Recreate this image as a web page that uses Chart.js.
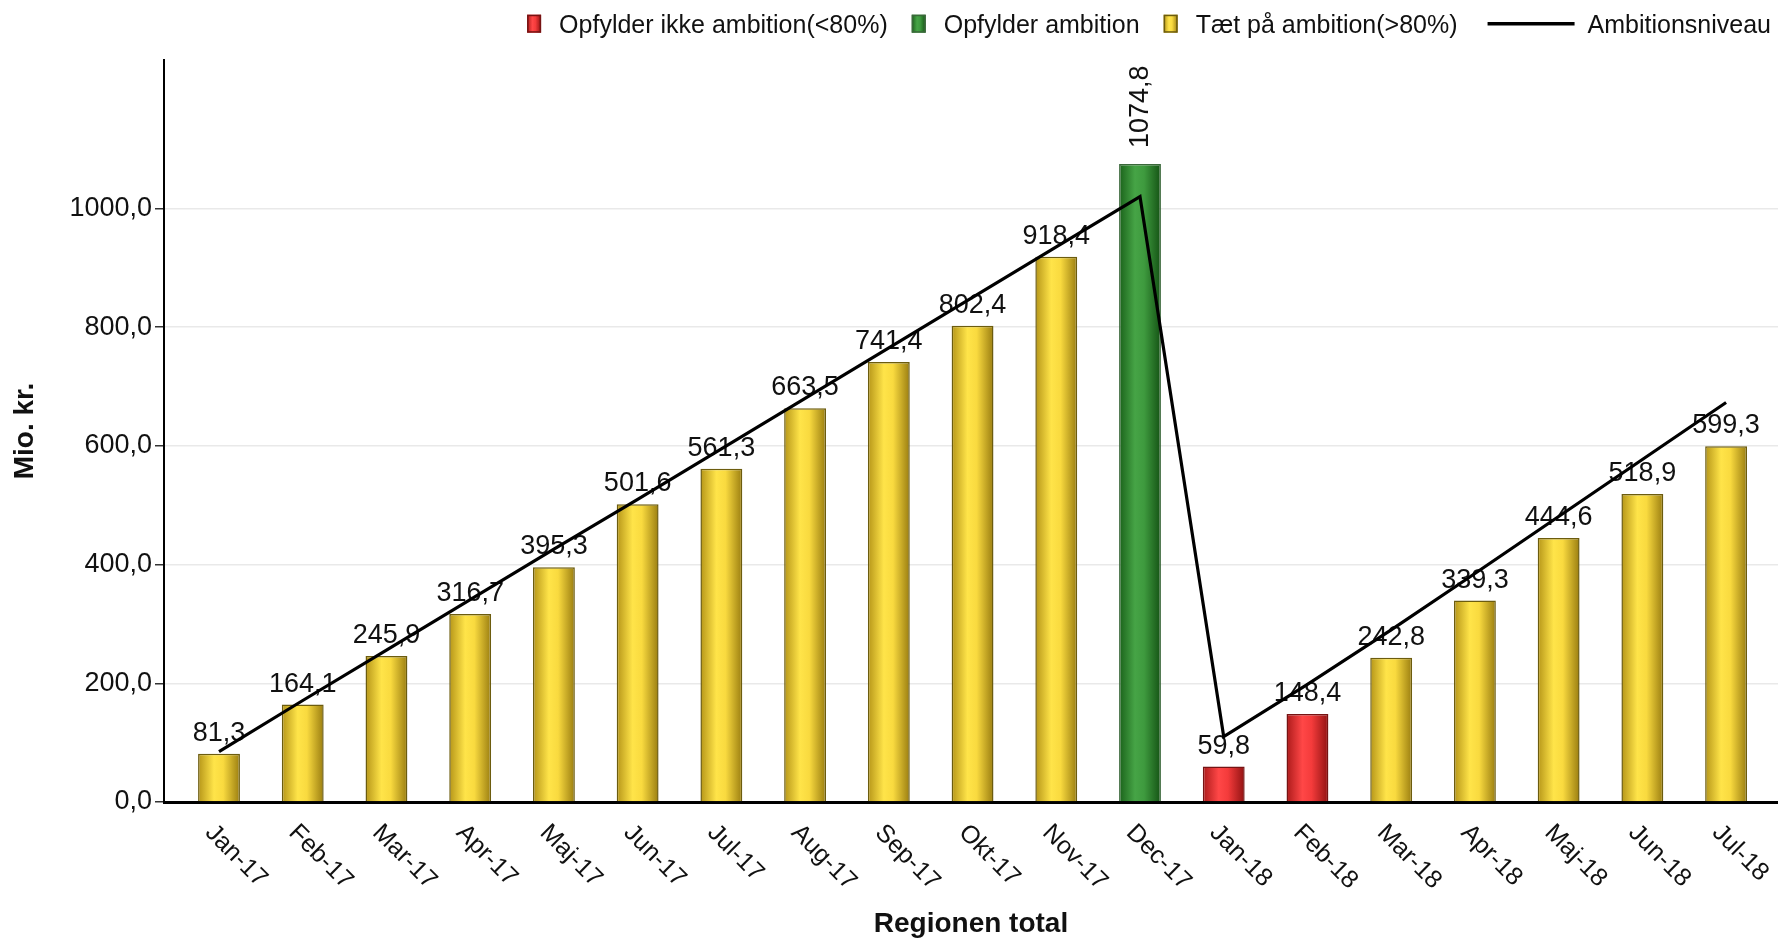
<!DOCTYPE html>
<html>
<head>
<meta charset="utf-8">
<script src="https://cdn.jsdelivr.net/npm/chart.js@4.4.1/dist/chart.umd.min.js"></script>
<style>
html,body{margin:0;padding:0;background:#fff;}
#wrap{width:1778px;height:941px;position:relative;}
</style>
</head>
<body>
<div id="wrap"><canvas id="c" width="1778" height="941"></canvas></div>
<script>
// ---------- DATA ----------
const months = ['Jan-17','Feb-17','Mar-17','Apr-17','Maj-17','Jun-17','Jul-17','Aug-17','Sep-17','Okt-17','Nov-17','Dec-17',
                'Jan-18','Feb-18','Mar-18','Apr-18','Maj-18','Jun-18','Jul-18'];
const actual = [81.3,164.1,245.9,316.7,395.3,501.6,561.3,663.5,741.4,802.4,918.4,1074.8,
                59.8,148.4,242.8,339.3,444.6,518.9,599.3];
const status = ['near','near','near','near','near','near','near','near','near','near','near','meets',
                'below','below','near','near','near','near','near'];
const ambition = [85,171,256,341,426,510,595,680,765,850,935,1020,
                  110,198,290,385,481,577,673];
const statusOrder = ['below','meets','near'];
const statusNames = {below:'Opfylder ikke ambition(<80%)', meets:'Opfylder ambition', near:'Tæt på ambition(>80%)'};
const lineName = 'Ambitionsniveau';
const yTickValues = [0,200,400,600,800,1000];
const yMax = 1250;
const xTitle = 'Regionen total';
const yTitle = 'Mio. kr.';

// ---------- STYLE ----------
const FONT = '"Liberation Sans", Arial, Helvetica, sans-serif';
const palette = {
  below: {stops:[[0,'#ab1a1a'],[0.38,'#ff4747'],[0.6,'#f43b3b'],[1,'#901212']], border:'#761313'},
  meets: {stops:[[0,'#1a621a'],[0.38,'#46a446'],[0.6,'#3e9a3e'],[1,'#145214']], border:'#3a683a'},
  near:  {stops:[[0,'#b59518'],[0.38,'#ffe449'],[0.6,'#f9da3f'],[1,'#9a7d10']], border:'#6c5c0e'}
};
const fmt = v => Number(v).toFixed(1).replace('.', ',');

function makeGradient(c, x0, x1, stops){
  const g = c.createLinearGradient(x0, 0, x1, 0);
  stops.forEach(s => g.addColorStop(s[0], s[1]));
  return g;
}

const barDatasets = statusOrder.map(st => ({
  type: 'bar',
  label: statusNames[st],
  status: st,
  order: 2,
  grouped: false,
  barPercentage: 0.5,
  categoryPercentage: 1,
  data: actual.map((v,i) => status[i] === st ? {x:i, y:v} : null).filter(p => p),
  borderColor: palette[st].border,
  borderWidth: 1.5,
  backgroundColor: (ctx) => {
    const pal = palette[st];
    const xs = ctx.chart.scales && ctx.chart.scales.x;
    if (ctx.type !== 'data' || !xs || !ctx.raw) return pal.stops[1][1];
    const px = xs.getPixelForValue(ctx.raw.x);
    const hw = (xs.getPixelForValue(1) - xs.getPixelForValue(0)) * 0.25;
    if (!isFinite(px) || !isFinite(hw)) return pal.stops[1][1];
    return makeGradient(ctx.chart.ctx, px - hw, px + hw, pal.stops);
  }
}));

const lineDataset = {
  type: 'line',
  label: lineName,
  order: 0,
  data: ambition.map((v,i) => ({x:i, y:v})),
  borderColor: '#000',
  borderWidth: 3.2,
  pointRadius: 0,
  tension: 0,
  fill: false
};

// ---------- PLUGIN: value labels, x labels, legend ----------
const decorPlugin = {
  id: 'decor',
  beforeDatasetsDraw(chart){
    const c = chart.ctx;
    const xs = chart.scales.x, ys = chart.scales.y;
    c.save();
    c.fillStyle = '#111';
    c.font = '27px ' + FONT;
    actual.forEach((v,i) => {
      const px = xs.getPixelForValue(i);
      const top = ys.getPixelForValue(v);
      if (v > 1000) {
        c.save();
        c.translate(px + 1, top - 16);
        c.rotate(-Math.PI/2);
        c.textAlign = 'left';
        c.textBaseline = 'middle';
        c.fillText(fmt(v), 0, 0);
        c.restore();
      } else {
        c.textAlign = 'center';
        c.textBaseline = 'alphabetic';
        c.fillText(fmt(v), px, top - 13);
      }
    });
    c.restore();
  },
  afterDraw(chart){
    const c = chart.ctx;
    const xs = chart.scales.x;
    const area = chart.chartArea;
    // x tick labels rotated 45deg clockwise
    c.save();
    c.fillStyle = '#111';
    c.font = '25px ' + FONT;
    c.textAlign = 'left';
    c.textBaseline = 'middle';
    months.forEach((m,i) => {
      const px = xs.getPixelForValue(i);
      c.save();
      c.translate(px - 10, area.bottom + 27);
      c.rotate(Math.PI/4);
      c.fillText(m, 0, 0);
      c.restore();
    });
    c.restore();

    // legend (right aligned at top)
    c.save();
    c.font = '25px ' + FONT;
    c.fillStyle = '#111';
    c.textBaseline = 'alphabetic';
    const items = chart.data.datasets.map(ds => ({ds, w: c.measureText(ds.label).width}));
    const boxW = 14, boxH = 18, boxGap = 18, itemGap = 24, lineLen = 87, lineGap = 13, preLineGap = 30;
    let total = 0;
    items.forEach((it, k) => {
      const sym = it.ds.type === 'line' ? lineLen + lineGap : boxW + boxGap;
      total += sym + it.w + (k < items.length - 1 ? (items[k+1].ds.type === 'line' ? preLineGap : itemGap) : 0);
    });
    let x = 1771 - total;
    const cy = 23.7;
    items.forEach((it, k) => {
      if (it.ds.type === 'line') {
        c.strokeStyle = '#000';
        c.lineWidth = 3.5;
        c.beginPath();
        c.moveTo(x, cy); c.lineTo(x + lineLen, cy);
        c.stroke();
        x += lineLen + lineGap;
      } else {
        const pal = palette[it.ds.status];
        c.fillStyle = makeGradient(c, x, x + boxW, pal.stops);
        c.fillRect(x, cy - boxH/2, boxW, boxH);
        c.strokeStyle = pal.border;
        c.lineWidth = 1.5;
        c.strokeRect(x + 0.75, cy - boxH/2 + 0.75, boxW - 1.5, boxH - 1.5);
        x += boxW + boxGap;
      }
      c.fillStyle = '#111';
      c.textAlign = 'left';
      c.fillText(it.ds.label, x, 33);
      x += it.w;
      if (k < items.length - 1) x += (items[k+1].ds.type === 'line' ? preLineGap : itemGap);
    });
    c.restore();
  }
};

new Chart(document.getElementById('c'), {
  data: { datasets: [...barDatasets, lineDataset] },
  options: {
    responsive: false,
    animation: false,
    devicePixelRatio: 1,
    layout: { padding: { top: 60, left: 0, right: 0, bottom: 0 } },
    plugins: { legend: { display: false }, tooltip: { enabled: false } },
    scales: {
      x: {
        type: 'linear',
        offset: false,
        min: -0.657,
        max: 18.62,
        afterBuildTicks: s => { s.ticks = months.map((m,i) => ({value: i})); },
        afterFit: s => { s.height = 139; },
        ticks: { display: false },
        grid: { display: false, drawTicks: false, offset: false },
        border: { display: true, color: '#000', width: 3 },
        title: { display: true, text: xTitle, color: '#111',
                 font: { family: FONT, size: 28, weight: 'bold' }, padding: { top: 0, bottom: 0 } }
      },
      y: {
        min: 0,
        max: yMax,
        afterBuildTicks: s => { s.ticks = yTickValues.map(v => ({value: v})); },
        afterFit: s => { s.width = 164; },
        ticks: { color: '#111', font: { family: FONT, size: 27 }, padding: 3, callback: v => fmt(v) },
        grid: { color: '#e9e9e9', lineWidth: 1.5, drawTicks: true, tickLength: 9, tickColor: '#333', tickWidth: 1.5 },
        border: { display: true, color: '#000', width: 2 },
        title: { display: true, text: yTitle, color: '#111',
                 font: { family: FONT, size: 28, weight: 'bold' }, padding: { top: 8, bottom: 0 } }
      }
    }
  },
  plugins: [decorPlugin]
});
</script>
</body>
</html>
